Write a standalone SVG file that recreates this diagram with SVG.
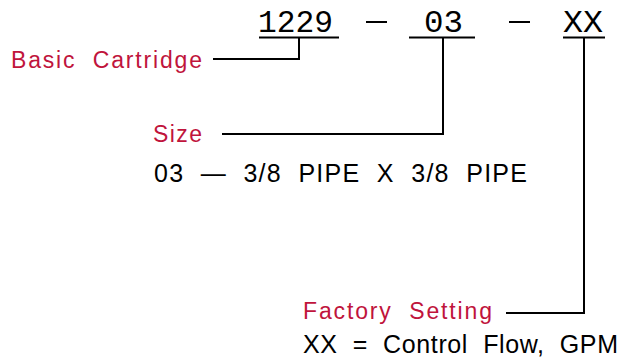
<svg xmlns="http://www.w3.org/2000/svg" width="623" height="360" viewBox="0 0 623 360">
<style>
.code{font-family:"Liberation Mono","DejaVu Sans Mono",monospace;font-size:32px;fill:#000}
.lbl{font-family:"Liberation Sans","DejaVu Sans",sans-serif;font-size:23px;fill:#c0143c;white-space:pre}
.txt{font-family:"Liberation Sans","DejaVu Sans",sans-serif;font-size:25px;fill:#000;white-space:pre}
.ln{fill:none;stroke:#000;stroke-width:2}
</style>
<rect width="623" height="360" fill="#fff"/>
<g id="code">
<text class="code" x="258" y="32" textLength="75" lengthAdjust="spacingAndGlyphs">1229</text>
<text class="code" x="424" y="32" textLength="39" lengthAdjust="spacingAndGlyphs">03</text>
<text class="code" x="563" y="32" textLength="40" lengthAdjust="spacingAndGlyphs">XX</text>
<line class="ln" x1="366" y1="22" x2="387" y2="22"/>
<line class="ln" x1="509" y1="22" x2="530" y2="22"/>
<line class="ln" x1="259" y1="37.5" x2="339" y2="37.5"/>
<line class="ln" x1="409" y1="37.5" x2="475" y2="37.5"/>
<line class="ln" x1="563" y1="37.5" x2="605" y2="37.5"/>
</g>
<g id="basic">
<text class="lbl" x="11" y="68" textLength="191" lengthAdjust="spacing">Basic  Cartridge</text>
</g>
<g id="size">
<text class="lbl" x="153" y="142" textLength="49" lengthAdjust="spacing">Size</text>
<text class="txt" x="154" y="182" textLength="373" lengthAdjust="spacing">03  —  3/8  PIPE  X  3/8  PIPE</text>
</g>
<g id="factory">
<text class="lbl" x="303" y="319" textLength="189" lengthAdjust="spacing">Factory  Setting</text>
<text class="txt" x="303" y="353" textLength="315" lengthAdjust="spacing">XX  =  Control  Flow,  GPM</text>
</g>
<g id="connectors">
<polyline class="ln" points="213,59 299,59 299,38"/>
<polyline class="ln" points="222,134 443,134 443,38"/>
<polyline class="ln" points="506,313 584,313 584,38"/>
</g>
</svg>
